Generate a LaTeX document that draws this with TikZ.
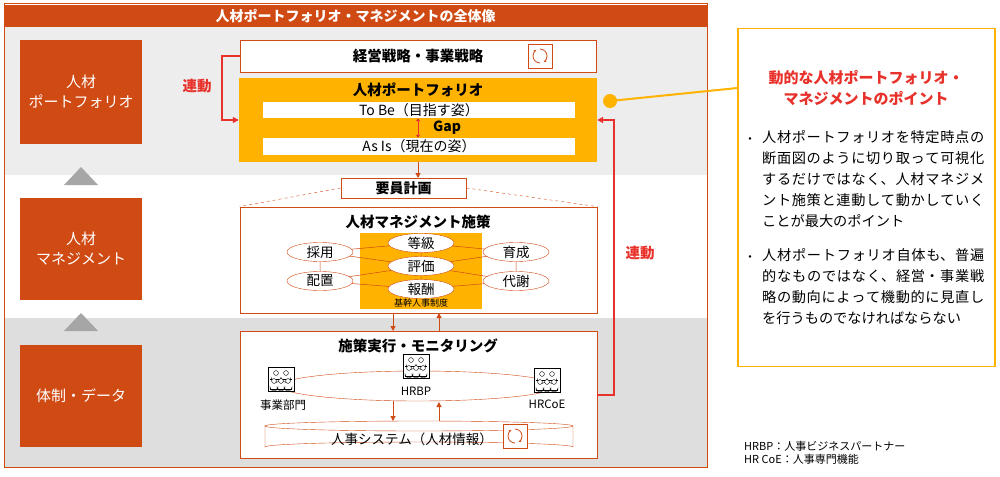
\documentclass[tikz,border=0pt]{standalone}
\usepackage{fontspec}
\setmainfont{Noto Sans CJK JP}
\XeTeXlinebreaklocale "ja"
\XeTeXlinebreakskip=0pt plus 1pt
\usetikzlibrary{arrows.meta,shapes.geometric}
\definecolor{or}{HTML}{D04A14}
\definecolor{yl}{HTML}{FFB300}
\definecolor{rd}{HTML}{E8312A}
\definecolor{g1}{HTML}{EDEDED}
\definecolor{g2}{HTML}{DEDEDE}
\tikzset{
 lb/.style={fill=or,text=white,font=\fontsize{15}{20}\selectfont,align=center,inner sep=0},
 wb/.style={draw=or,fill=white,line width=0.8pt},
 el/.style={ellipse,draw=or,fill=white,minimum width=66pt,minimum height=19pt,inner sep=0,font=\fontsize{13.5}{14}\selectfont},
 ar/.style={-{Triangle[length=5pt,width=5pt]},draw=or,line width=1pt},
 rar/.style={-{Triangle[length=6pt,width=6pt]},draw=rd,line width=1.4pt},
 cyc/.pic={\draw[or,fill=white,line width=0.7pt] (-12,-12) rectangle (12,12);
   \draw[or,line width=0.8pt,-{Stealth[length=3pt]}] (0,-7) arc(-90:60:7);
   \draw[or,line width=0.8pt,-{Stealth[length=3pt]}] (0,7) arc(90:240:7);},
 ppl/.pic={\draw[fill=white,line width=0.6pt] (-13,-12) rectangle (13,12);
   \foreach \x in {-5,5}{\draw (\x,-6) circle(2.4); \draw (\x-4.5,0) -- (\x-4.5,-1) arc(180:0:4.5) -- (\x+4.5,0);}
   \draw (-11,0) -- (11,0);
   \foreach \x in {-7,0,7}{\draw[fill=white] (\x,2) circle(2.4); \draw (\x-4,10) -- (\x-4,8) arc(180:0:4) -- (\x+4,10);}
   \draw (-11,10) -- (11,10);}
}
\begin{document}
\begin{tikzpicture}[x=1pt,y=-1pt]
\useasboundingbox (0,0) rectangle (1000,476);
\fill[white] (0,0) rectangle (1000,476);
% panels
\fill[g1] (4,27) rectangle (707,175);
\fill[g2] (4,318) rectangle (707,467);
\draw[or,line width=1pt] (4,4) rectangle (707,467);
\node[fill=or,minimum width=703pt,minimum height=22pt,text=white,font=\fontsize{14}{14}\selectfont\bfseries,inner sep=0] (title) at (355.5,16) {人材ポートフォリオ・マネジメントの全体像};
% left column
\node[lb,minimum width=122pt,minimum height=104pt] (L1) at (81,92) {人材\\ポートフォリオ};
\node[lb,minimum width=122pt,minimum height=102pt] (L2) at (81,249) {人材\\マネジメント};
\node[lb,minimum width=122pt,minimum height=102pt] (L3) at (81,396) {体制・データ};
\fill[gray!70] (64,185) -- (98,185) -- (81,167) -- cycle;
\fill[gray!70] (64,331) -- (98,331) -- (81,313) -- cycle;
% strategy
\node[wb,minimum width=356pt,minimum height=32pt,font=\fontsize{14.5}{15}\selectfont\bfseries] (st) at (418,56) {経営戦略・事業戦略};
\pic at (540,56) {cyc};
% portfolio
\node[fill=yl,minimum width=358pt,minimum height=84pt,inner sep=0] (pf) at (418,120) {};
\node[font=\fontsize{14.5}{15}\selectfont\bfseries] (pft) at (418,90) {人材ポートフォリオ};
\node[fill=white,minimum width=312pt,minimum height=16pt,inner sep=0,font=\fontsize{14}{14}\selectfont] (tb) at (419,110) {To Be（目指す姿）};
\node[fill=white,minimum width=312pt,minimum height=17pt,inner sep=0,font=\fontsize{14}{14}\selectfont] (ai) at (419,146.5) {As Is（現在の姿）};
\node[font=\fontsize{14}{14}\selectfont\bfseries] (gap) at (447,128) {Gap};
\draw[rd,line width=1pt,{Triangle[length=3pt,width=4pt]}-{Triangle[length=3pt,width=4pt]}] (tb.south -| 418,0) -- (ai.north -| 418,0);
% staffing
\node[wb,minimum width=125pt,minimum height=20pt,inner sep=0,font=\fontsize{14}{14}\selectfont\bfseries] (yo) at (403.5,188) {要員計画};
\draw[ar] (pf.south -| 418,0) -- (418,178);
% mgmt
\node[wb,minimum width=357pt,minimum height=106pt] (mg) at (418.5,260) {};
\draw[or,dashed] (yo.west) -- (mg.north west);
\draw[or,dashed] (yo.east) -- (mg.north east);
\node[font=\fontsize{14.5}{15}\selectfont\bfseries] (mgt) at (418,222) {人材マネジメント施策};
\node[fill=yl,minimum width=122pt,minimum height=76pt,inner sep=0] (core) at (421,271) {};
\node[font=\fontsize{9}{9}\selectfont] (coret) at (421,303) {基幹人事制度};
\coordinate (e1) at (421,243);
\coordinate (e2) at (421,266);
\coordinate (e3) at (421,289);
\coordinate (e4) at (320,252);
\coordinate (e5) at (320,281);
\coordinate (e6) at (516,252);
\coordinate (e7) at (516,281);
\draw[or,line width=0.5pt] (e4) -- (e2) (e5) -- (e2) (e6) -- (e2) (e7) -- (e2)
 (e4) -- (e1) (e5) -- (e3) (e6) -- (e1) (e7) -- (e3)
 (e4) -- (e5) (e6) -- (e7) (e1) -- (e2) (e2) -- (e3);
\foreach \n/\t in {e1/等級,e2/評価,e3/報酬,e4/採用,e5/配置,e6/育成,e7/代謝}{\node[el] (n\n) at (\n) {\t};}
% execution
\node[wb,minimum width=357pt,minimum height=127pt] (ex) at (418.5,394.5) {};
\draw[ar] (393,313) -- (393,331);
\draw[ar] (439,331) -- (439,313);
\node[font=\fontsize{14.5}{15}\selectfont\bfseries] (ext) at (418,346) {施策実行・モニタリング};
\node[ellipse,draw=or,minimum width=276pt,minimum height=30pt] (big) at (418,386) {};
\pic at (281,379) {ppl};
\pic at (416,366) {ppl};
\pic at (547,380) {ppl};
\node[font=\fontsize{11.5}{11}\selectfont] (b1) at (283,405) {事業部門};
\node[font=\fontsize{11.5}{11}\selectfont] (b2) at (416,391) {HRBP};
\node[font=\fontsize{11.5}{11}\selectfont] (b3) at (547,404) {HRCoE};
\draw[ar] (393,401) -- (393,421);
\draw[ar] (439,421) -- (439,402);
% cylinder
\draw[or,fill=white] (265,426) -- (265,447) arc(180:360:154 and 5) -- (573,426) arc(0:180:154 and 5) -- cycle;
\draw[or] (265,426) arc(180:360:154 and 5);
\node[font=\fontsize{13.5}{14}\selectfont] (sys) at (412,439) {人事システム（人材情報）};
\pic at (515,436) {cyc};
% linking arrows
\draw[rar] (st.west) -- (222,56) -- (222,120) -- (pf.west |- 0,120);
\node[text=rd,font=\fontsize{14.5}{15}\selectfont\bfseries] (r1) at (197,86) {連動};
\draw[rar] (ex.east |- 0,395) -- (614,395) -- (614,120) -- (pf.east |- 0,120);
\node[text=rd,font=\fontsize{14.5}{15}\selectfont\bfseries] (r2) at (640,253) {連動};
% callout
\node[draw=yl,line width=1.2pt,fill=white,minimum width=257pt,minimum height=338pt,inner sep=0] (co) at (866.5,197.5) {};
\fill[yl] (610,101) circle(7) coordinate (dot);
\draw[yl,line width=2pt] (dot) -- (co.west |- 0,88);
\node[text=rd,font=\fontsize{15}{21}\selectfont\bfseries,align=center] (cot) at (866,88) {動的な人材ポートフォリオ・\\マネジメントのポイント};
\node[anchor=north west,text width=222pt,font=\fontsize{14.2}{21}\selectfont,inner sep=0,align=justify] (p1) at (762,130) {人材ポートフォリオを特定時点の断面図のように切り取って可視化するだけではなく、人材マネジメント施策と連動して動かしていくことが最大のポイント};
\node[anchor=north west,text width=222pt,font=\fontsize{14.2}{21}\selectfont,inner sep=0,align=justify] (p2) at (762,248) {人材ポートフォリオ自体も、普遍的なものではなく、経営・事業戦略の動向によって機動的に見直しを行うものでなければならない};
\node[font=\fontsize{12}{12}\selectfont] (d1) at (750,141) {・};
\node[font=\fontsize{12}{12}\selectfont] (d2) at (750,259) {・};
\node[anchor=west,font=\fontsize{11}{13}\selectfont,align=left,inner sep=0] (fn) at (744,453) {HRBP：人事ビジネスパートナー\\HR CoE：人事専門機能};
\end{tikzpicture}
\end{document}
